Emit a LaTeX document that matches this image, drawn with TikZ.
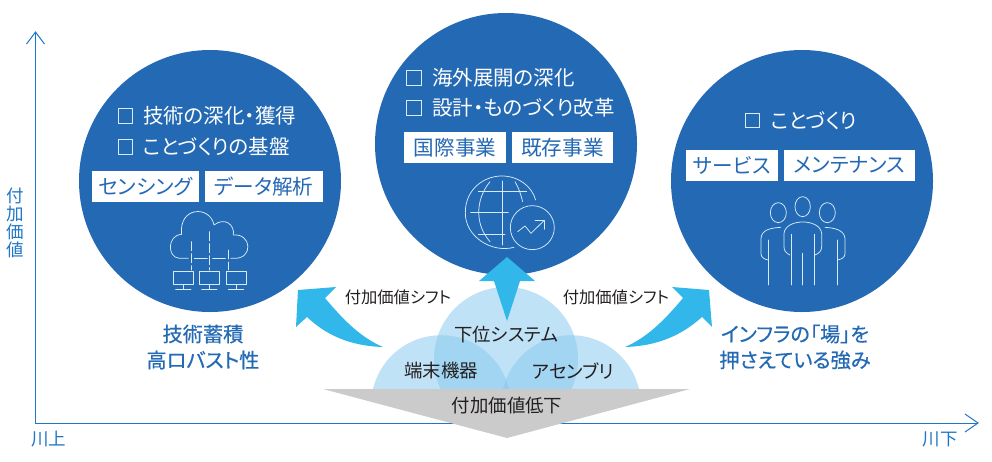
\documentclass[tikz,border=0pt]{standalone}
\usepackage{fontspec}
\setmainfont{Noto Sans CJK JP}
\newfontfamily\propjp[RawFeature=+palt]{Noto Sans CJK JP}
\newfontfamily\propjpmed[RawFeature=+palt,FakeBold=0.5]{Noto Sans CJK JP}
\definecolor{dblue}{HTML}{2469B4}
\definecolor{axisblue}{HTML}{1F76C6}
\definecolor{cyanarrow}{HTML}{31B7E9}
\definecolor{lightc}{HTML}{86C8EE}
\definecolor{greytri}{HTML}{CBCBCB}
\definecolor{inktext}{HTML}{231F20}
\definecolor{iconline}{HTML}{D6ECF8}
\tikzset{
  bigcircle/.style={circle,fill=dblue,draw=none,minimum size=262pt,inner sep=0pt},
  tagbox/.style={fill=white,draw=none,inner sep=0pt,text=dblue,font=\propjp\fontsize{20.6}{21}\selectfont,anchor=center},
  headline/.style={text=white,inner sep=0pt,anchor=west,font=\propjp\fontsize{20.5}{21}\selectfont},
  checkbox/.style={draw=iconline,line width=0.9pt,fill=none,inner sep=0pt,minimum size=14.5pt,anchor=center},
  icon/.style={draw=iconline,line width=0.75pt,line cap=round,line join=round},
  softcircle/.style={fill=lightc,fill opacity=0.52,draw=none},
  shiftarrow/.style={fill=cyanarrow,draw=none},
  darklabel/.style={text=inktext,inner sep=0pt,font=\propjp\fontsize{18.4}{19}\selectfont},
  shiftlabel/.style={text=inktext,inner sep=0pt,font=\propjp\fontsize{16.3}{17}\selectfont},
  bluelabel/.style={text=dblue,inner sep=0pt,font=\propjpmed\fontsize{20.2}{21}\selectfont},
  axislabel/.style={text=axisblue,inner sep=0pt,font=\propjp\fontsize{17.5}{17.75}\selectfont},
  axisline/.style={draw=axisblue,line width=1pt,line join=miter}
}
\begin{document}
\begin{tikzpicture}[x=1pt,y=-1pt]
\useasboundingbox (0,0) rectangle (992,461);
% axes
\coordinate (origin) at (35.5,423);
\coordinate (ytip) at (35.5,32);
\coordinate (xtip) at (978,423);
\coordinate (yw1) at (26.5,44);
\coordinate (yw2) at (44.5,44);
\coordinate (xw1) at (965,414);
\coordinate (xw2) at (965,432);
\draw[axisline] (ytip) -- (origin) -- (xtip);
\draw[axisline] (yw1) -- (ytip) -- (yw2);
\draw[axisline] (xw1) -- (xtip) -- (xw2);
\node[axislabel,align=center] (yaxis) at (15,223) {付\\加\\価\\値};
\node[axislabel] (upstream) at (48.5,439.5) {川上};
\node[axislabel] (downstream) at (940,439.5) {川下};
% big circles
\node[bigcircle] (cleft) at (210,181) {};
\node[bigcircle] (cmid) at (506,144) {};
\node[bigcircle] (cright) at (802,181) {};
% left texts
\node[checkbox] (b1) at (125.5,116) {};
\node[checkbox] (b2) at (125.5,147) {};
\node[headline] (t1) at (143,116) {技術の深化・獲得};
\node[headline] (t2) at (143,147) {ことづくりの基盤};
\node[tagbox,minimum width=107pt,minimum height=31pt] (tag1) at (145.5,186.5) {センシング};
\node[tagbox,minimum width=118pt,minimum height=31pt] (tag2) at (264,186.5) {データ解析};
% middle texts
\node[checkbox] (b3) at (414,78) {};
\node[checkbox] (b4) at (414,108) {};
\node[headline] (t3) at (432,78) {海外展開の深化};
\node[headline] (t4) at (432,108) {設計・ものづくり改革};
\node[tagbox,minimum width=102pt,minimum height=31pt] (tag3) at (455,147.5) {国際事業};
\node[tagbox,minimum width=101pt,minimum height=31pt] (tag4) at (562.5,147.5) {既存事業};
% right texts
\node[checkbox] (b5) at (752.5,120.5) {};
\node[headline] (t5) at (771,120.5) {ことづくり};
\node[tagbox,minimum width=92pt,minimum height=31pt] (tag5) at (732,165.5) {サービス};
\node[tagbox,minimum width=131pt,minimum height=31pt] (tag6) at (849.5,165.5) {メンテナンス};
% cloud icon
\begin{scope}[shift={(60,50)},x=0.3333pt,y=-0.3333pt,icon]
\draw (385,625) -- (358,625) .. controls (320,622) and (322,555) .. (365,553)
  .. controls (355,470) and (450,465) .. (462,525)
  .. controls (495,500) and (525,525) .. (520,555)
  .. controls (575,550) and (580,625) .. (525,625) -- (512,625);
\draw[dash pattern=on 9pt off 3pt] (394,575) -- (394,660);
\draw[dash pattern=on 9pt off 3pt] (449,545) -- (449,660);
\draw[dash pattern=on 9pt off 3pt] (504,600) -- (504,660);
\draw (403,625) -- (442,625) (458,625) -- (496,625);
\foreach \dx in {0,78,158}{
  \draw (340+\dx,665) rectangle (400+\dx,703);
  \draw (370+\dx,703) -- (370+\dx,717);
  \draw (347+\dx,718) -- (393+\dx,718);
}
\end{scope}
% globe icon
\begin{scope}[shift={(370,0)},x=0.3333pt,y=-0.3333pt,icon]
\draw (432,742) .. controls (365,760) and (285,710) .. (286,638)
  .. controls (286,565) and (345,528) .. (395,528)
  .. controls (445,528) and (485,558) .. (497,600);
\draw (397,543) -- (397,735);
\draw (325,575) -- (470,575);
\draw (302,638) -- (415,638);
\draw (325,702) -- (405,702);
\draw (360,545) .. controls (315,600) and (315,675) .. (360,725);
\draw (435,545) .. controls (447,565) and (453,585) .. (458,605);
\draw (487,683) circle[radius=22pt];
\draw (443,695) -- (465,678) -- (483,700) -- (522,662);
\draw (495,660) -- (522,660) -- (522,688);
\end{scope}
% people icon
\begin{scope}[shift={(660,70)},x=0.3333pt,y=-0.3333pt,icon]
\draw (355,428) ellipse[x radius=8pt,y radius=10pt];
\draw (428,410) ellipse[x radius=7.7pt,y radius=10pt];
\draw (502,428) ellipse[x radius=8pt,y radius=10pt];
\draw (390,555) .. controls (378,550) and (372,542) .. (372,530) -- (372,490)
  .. controls (375,465) and (405,456) .. (428,456)
  .. controls (452,456) and (482,465) .. (485,490) -- (485,530)
  .. controls (485,542) and (478,550) .. (465,555);
\draw (394,493) -- (394,645) (462,493) -- (462,645) (428,550) -- (428,645);
\draw (362,472) .. controls (330,474) and (305,480) .. (303,505) -- (303,552)
  .. controls (304,562) and (312,568) .. (325,570);
\draw (325,510) -- (325,645);
\draw (495,472) .. controls (525,474) and (552,480) .. (555,505) -- (555,552)
  .. controls (554,562) and (546,568) .. (532,570);
\draw (532,510) -- (532,645);
\end{scope}
% soft circles
\begin{scope}
\clip (300,280) rectangle (700,389.5);
\fill[softcircle] (506,359) circle[radius=72];
\fill[softcircle] (441,405) circle[radius=69.8];
\fill[softcircle] (571,405) circle[radius=69.8];
\end{scope}
% arrows
\coordinate (upTail) at (507,321);
\coordinate (upTip) at (507,257);
\fill[shiftarrow] (upTip) -- (535,281) -- (520,281) -- (upTail) -- (494,281) -- (479,281) -- cycle;
\coordinate (leftTail) at (383,347);
\coordinate (leftTip) at (298,290);
\fill[shiftarrow] (leftTip) -- (336,287) -- (325,298) .. controls (345,322) and (362,338) .. (leftTail)
  .. controls (350,346) and (326,335) .. (307,317) -- (296,327) -- cycle;
\coordinate (rightTail) at (625,347);
\coordinate (rightTip) at (709,290);
\fill[shiftarrow] (rightTip) -- (672,287) -- (683,298) .. controls (663,322) and (646,338) .. (rightTail)
  .. controls (658,346) and (682,335) .. (702,317) -- (712,327) -- cycle;
% grey triangle
\coordinate (triL) at (323,389);
\coordinate (triR) at (690,389);
\coordinate (triB) at (507,438);
\fill[greytri] (triL) -- (triR) -- (triB) -- cycle;
% labels
\node[shiftlabel] (s1) at (398,297) {付加価値シフト};
\node[shiftlabel] (s2) at (616,297) {付加価値シフト};
\node[darklabel] (n1) at (506,335) {下位システム};
\node[darklabel] (n2) at (441,371) {端末機器};
\node[darklabel] (n3) at (573,371) {アセンブリ};
\node[darklabel] (n4) at (507,406) {付加価値低下};
\node[bluelabel] (l1) at (203,334) {技術蓄積};
\node[bluelabel] (l2) at (203,360) {高ロバスト性};
\node[bluelabel] (l3) at (795,334) {インフラの「場」を};
\node[bluelabel] (l4) at (795,360) {押さえている強み};
\end{tikzpicture}
\end{document}
